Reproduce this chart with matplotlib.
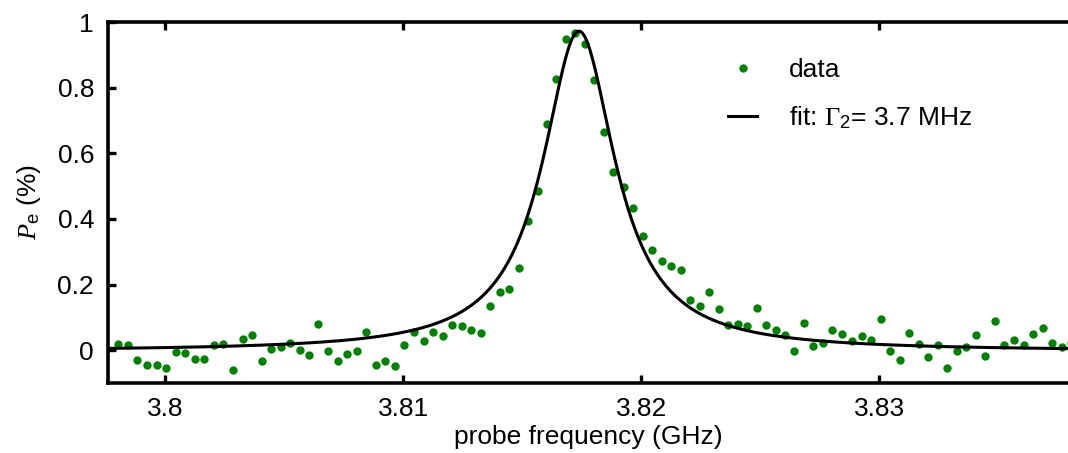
import numpy as np
import matplotlib
matplotlib.use("Agg")
import matplotlib.pyplot as plt

# measured points (GHz, P_e in %)
freq = [3.79803, 3.79845, 3.79882, 3.79924, 3.79964, 3.80004, 3.80044, 3.80084,
        3.80124, 3.80164, 3.80203, 3.80244, 3.80284, 3.80325, 3.80364, 3.80405,
        3.80444, 3.80485, 3.80524, 3.80566, 3.80605, 3.80643, 3.80685, 3.80724,
        3.80765, 3.80804, 3.80845, 3.80884, 3.80924, 3.80964, 3.81004, 3.81044,
        3.81086, 3.81125, 3.81166, 3.81205, 3.81245, 3.81284, 3.81325, 3.81366,
        3.81406, 3.81445, 3.81486, 3.81525, 3.81567, 3.81605, 3.81643, 3.81684,
        3.81721, 3.81762, 3.81800, 3.81843, 3.81882, 3.81927, 3.81964, 3.82006,
        3.82045, 3.82086, 3.82124, 3.82166, 3.82205, 3.82247, 3.82286, 3.82326,
        3.82366, 3.82406, 3.82445, 3.82486, 3.82525, 3.82566, 3.82605, 3.82643,
        3.82684, 3.82723, 3.82765, 3.82803, 3.82845, 3.82884, 3.82926, 3.82964,
        3.83006, 3.83045, 3.83087, 3.83126, 3.83167, 3.83206, 3.83247, 3.83286,
        3.83327, 3.83366, 3.83406, 3.83446, 3.83487, 3.83526, 3.83567, 3.83607,
        3.83647, 3.83686, 3.83725, 3.83766, 3.83806]
pe = [0.019, 0.016, -0.029, -0.046, -0.046, -0.054, -0.005, -0.009,
      -0.027, -0.027, 0.016, 0.019, -0.060, 0.034, 0.045, -0.034,
      0.005, 0.011, 0.023, 0.002, -0.014, 0.080, -0.001, -0.034,
      -0.011, -0.004, 0.054, -0.044, -0.033, -0.049, 0.017, 0.054,
      0.029, 0.054, 0.043, 0.078, 0.074, 0.060, 0.053, 0.136,
      0.176, 0.187, 0.251, 0.395, 0.485, 0.689, 0.825, 0.949,
      0.965, 0.934, 0.823, 0.665, 0.543, 0.497, 0.432, 0.347,
      0.306, 0.273, 0.255, 0.245, 0.154, 0.136, 0.176, 0.126,
      0.077, 0.079, 0.073, 0.129, 0.076, 0.060, 0.046, -0.004,
      0.082, 0.014, 0.022, 0.062, 0.049, 0.029, 0.042, 0.030,
      0.095, -0.004, -0.031, 0.052, 0.019, -0.022, 0.016, -0.053,
      -0.004, 0.009, 0.047, -0.017, 0.088, 0.016, 0.030, 0.016,
      0.048, 0.067, 0.022, 0.011, 0.023]

# lorentzian fit parameters
fit_center = 3.81738   # GHz
fit_fwhm = 0.0037      # GHz  (Gamma_2 = 3.7 MHz)
fit_amp = 0.975
fit_offset = -0.003

xticks = [3.80, 3.81, 3.82, 3.83]
xticklabels = ["3.8", "3.81", "3.82", "3.83"]
yticks = [0, 0.2, 0.4, 0.6, 0.8, 1.0]
yticklabels = ["0", "0.2", "0.4", "0.6", "0.8", "1"]

plt.rcParams["font.family"] = ["Liberation Sans", "DejaVu Sans"]
plt.rcParams["mathtext.fontset"] = "custom"
plt.rcParams["mathtext.rm"] = "Liberation Serif"
plt.rcParams["mathtext.it"] = "Liberation Serif:italic"
plt.rcParams["mathtext.sf"] = "Liberation Sans"

def lorentz(f):
    hw = fit_fwhm / 2
    return fit_offset + fit_amp * hw**2 / ((f - fit_center)**2 + hw**2)

def main():
    fig = plt.figure(figsize=(10.68, 4.53), dpi=100)
    ax = fig.add_axes([108/1068, 1 - 383/453, 1 - 108/1068, (383 - 22)/453])

    xlim = (3.79759, 3.83793)
    f_fit = np.linspace(xlim[0], xlim[1], 1500)

    ax.plot(freq, pe, linestyle="none", marker="o", ms=5, color="#008000",
            mec="#008000", label="data")
    ax.plot(f_fit, lorentz(f_fit), color="black", lw=2.2,
            label=r"fit: $\Gamma_\mathsf{2}$= 3.7 MHz")

    ax.set_xlim(*xlim)
    ax.set_ylim(-0.1, 1.0)
    ax.set_xticks(xticks)
    ax.set_xticklabels(xticklabels)
    ax.set_yticks(yticks)
    ax.set_yticklabels(yticklabels)

    for side in ["left", "bottom", "top"]:
        ax.spines[side].set_linewidth(2.6)
    ax.spines["right"].set_visible(False)

    ax.tick_params(axis="both", direction="in", length=6, width=2.4,
                   labelsize=19, pad=10, colors="black")
    ax.tick_params(axis="x", top=True, bottom=True)
    ax.tick_params(axis="y", left=True, right=False)

    ax.set_xlabel("probe frequency (GHz)", fontsize=19, labelpad=3)
    ax.set_ylabel(r"$P_\mathsf{e}$ (%)", fontsize=19)
    ax.yaxis.set_label_coords(-0.068, 0.5)

    ax.legend(loc="upper left", bbox_to_anchor=(728/1068, 1 - 58/453),
              bbox_transform=fig.transFigure, frameon=False, fontsize=19,
              numpoints=1, handlelength=1.1, handletextpad=1.2,
              labelspacing=0.85, borderpad=0, borderaxespad=0)

    fig.savefig("out.png", dpi=100)
    plt.close(fig)

if __name__ == "__main__":
    main()
